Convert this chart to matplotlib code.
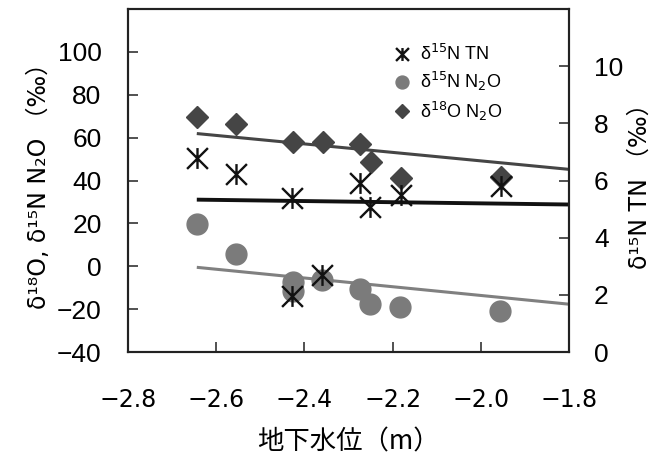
import matplotlib
matplotlib.use("Agg")
import matplotlib.pyplot as plt
from matplotlib.path import Path

# data
tn_x = [-2.643, -2.555, -2.427, -2.427, -2.361, -2.274, -2.251, -2.182, -1.954]
tn_y = [6.79, 6.24, 5.38, 1.97, 2.69, 5.91, 5.09, 5.48, 5.82]          # right axis

n2o_x = [-2.644, -2.556, -2.425, -2.425, -2.361, -2.274, -2.251, -2.183, -1.956]
n2o_y = [19.7, 5.8, -7.4, -11.6, -6.6, -10.5, -17.7, -19.0, -20.9]   # left axis

o18_x = [-2.644, -2.555, -2.425, -2.357, -2.274, -2.249, -2.182, -1.954]
o18_y = [69.5, 66.5, 58.0, 58.0, 57.2, 48.7, 41.3, 41.5]              # left axis

# trend lines (start / end)
trend_x = [-2.644, -1.8]
trend_o18 = [61.9, 45.2]
trend_n2o = [-0.5, -17.7]
trend_tn = [5.33, 5.16]

xticks = [-2.8, -2.6, -2.4, -2.2, -2.0, -1.8]
yticks_left = [-40, -20, 0, 20, 40, 60, 80, 100]
yticks_right = [0, 2, 4, 6, 8, 10]

star = Path([(-1, -1), (1, 1), (-1, 1), (1, -1), (0, -1), (0, 1)],
            [Path.MOVETO, Path.LINETO, Path.MOVETO, Path.LINETO, Path.MOVETO, Path.LINETO])

fig = plt.figure(figsize=(6.6, 4.57), dpi=100)
ax = fig.add_axes([128 / 660, 1 - 352 / 457, 441 / 660, 343 / 457])
ax2 = ax.twinx()

ax.plot(trend_x, trend_o18, color="#454545", lw=2.2, solid_capstyle="butt")
ax.plot(trend_x, trend_n2o, color="#808080", lw=2.2, solid_capstyle="butt")
ax2.plot(trend_x, trend_tn, color="#111111", lw=2.8, solid_capstyle="butt")

h_n2o, = ax.plot(n2o_x, n2o_y, "o", ms=15, color="#7b7b7b", mec="#7b7b7b", ls="none",
                 label="δ$^{15}$N N$_2$O")
h_o18, = ax.plot(o18_x, o18_y, "D", ms=11, color="#454545", mec="#454545", ls="none",
                 label="δ$^{18}$O N$_2$O")
h_tn, = ax2.plot(tn_x, tn_y, marker=star, ms=15, mfc="none", mec="#111111", mew=1.7,
                 ls="none", label="δ$^{15}$N TN")

ax.set_xlim(-2.8, -1.8)
ax.set_ylim(-40, 120)
ax2.set_ylim(0, 12)
ax.set_xticks(xticks)
ax.set_yticks(yticks_left)
ax2.set_yticks(yticks_right)
ax.set_xticklabels(["\u2212%.1f" % abs(v) for v in xticks], fontsize=17, family="DejaVu Sans")
ax.set_yticklabels([("\u2212%d" % abs(v)) if v < 0 else "%d" % v for v in yticks_left],
                   fontsize=19, family="Liberation Sans")
ax2.set_yticklabels(["%d" % v for v in yticks_right], fontsize=19, family="Liberation Sans")

ax.tick_params(axis="x", direction="in", length=7, width=1.1, pad=26, color="#222222")
ax.tick_params(axis="y", direction="in", length=7, width=1.1, pad=19, color="#222222")
ax2.tick_params(axis="y", direction="in", length=7, width=1.1, pad=18, color="#222222")
for a in (ax, ax2):
    for s in a.spines.values():
        s.set_linewidth(1.5)
        s.set_color("#222222")

ax.set_xlabel("地下水位（m）", fontsize=19, family=["Noto Sans CJK JP"], labelpad=12)
ax.set_ylabel("δ¹⁸O, δ¹⁵N N₂O （‰）", fontsize=17,
              family=["DejaVu Sans", "Noto Sans CJK JP"], labelpad=4)
ax2.set_ylabel("δ¹⁵N TN （‰）", fontsize=17, rotation=90,
               family=["DejaVu Sans", "Noto Sans CJK JP"], labelpad=3)

leg = ax2.legend(handles=[h_tn, h_n2o, h_o18], loc="upper left",
                 bbox_to_anchor=(0.6, 0.897), frameon=False,
                 markerscale=0.62, handlelength=1.0, handletextpad=0.5,
                 labelspacing=0.33, borderpad=0, borderaxespad=0,
                 prop={"family": "Liberation Sans", "size": 13})

fig.savefig("out.png", dpi=100)
